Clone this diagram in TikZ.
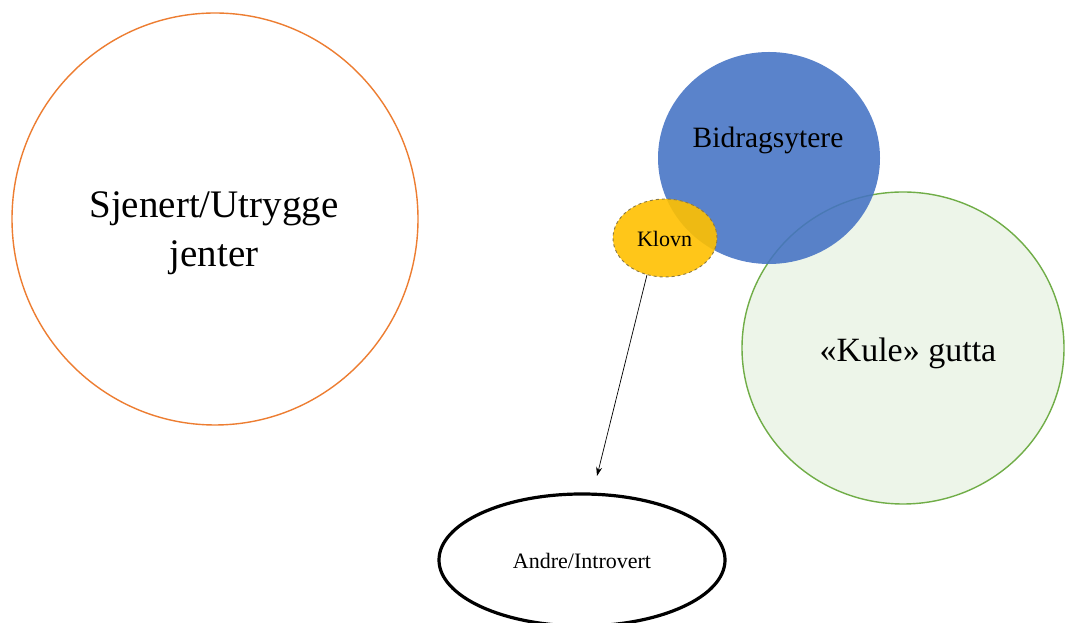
\documentclass[tikz,border=0pt]{standalone}
\usepackage{fontspec}
\setmainfont{Liberation Serif}
\usetikzlibrary{shapes.geometric,arrows.meta}
\definecolor{orangeline}{HTML}{ED7D31}
\definecolor{bluefill}{HTML}{4472C4}
\definecolor{greenline}{HTML}{70AD47}
\definecolor{greenfill}{HTML}{EDF5E9}
\definecolor{goldfill}{HTML}{FFC000}
\definecolor{goldline}{HTML}{8C7A45}
\tikzset{
  blob/.style={ellipse, inner sep=0pt},
  lbl/.style={anchor=base, inner sep=0pt, text=black},
}
\begin{document}
\begin{tikzpicture}[x=1pt,y=1pt]
\useasboundingbox (0,0) rectangle (1066,623);
\fill[white] (0,0) rectangle (1066,623);
% orange circle
\node[blob, draw=orangeline, line width=1.4pt, minimum width=406pt, minimum height=412pt] (shy) at (215,404) {};
\node[lbl, align=center, font=\fontsize{39}{49}\selectfont] (shyt) at (214,356) {Sjenert/Utrygge\\jenter};
% green circle
\node[blob, draw=greenline, fill=greenfill, line width=1.4pt, minimum width=322pt, minimum height=312pt] (cool) at (903,275) {};
% blue circle
\node[blob, fill=bluefill, fill opacity=0.88, minimum width=222pt, minimum height=212pt] (contrib) at (769,465) {};
\node[lbl, font=\fontsize{29.5}{34}\selectfont] (contribt) at (768,475.7) {Bidragsytere};
\node[lbl, font=\fontsize{34}{40}\selectfont] (coolt) at (908,261.3) {«Kule» gutta};
% klovn
\node[blob, draw=goldline, dashed, line width=0.9pt, fill=goldfill, fill opacity=0.9, draw opacity=1, minimum width=104pt, minimum height=78pt] (klovn) at (665,385) {};
\node[lbl, font=\fontsize{22}{26}\selectfont] (klovnt) at (664.5,376.3) {Klovn};
% andre
\node[blob, draw=black, line width=3.2pt, minimum width=286pt, minimum height=132pt] (andre) at (582,63) {};
\node[lbl, font=\fontsize{22}{26}\selectfont] (andret) at (582,54) {Andre/Introvert};
% arrow
\coordinate (arrend) at (597,147);
\draw[line width=0.7pt, -{Stealth[length=9pt,width=6pt]}] (klovn.-116) -- (arrend);
\end{tikzpicture}
\end{document}
